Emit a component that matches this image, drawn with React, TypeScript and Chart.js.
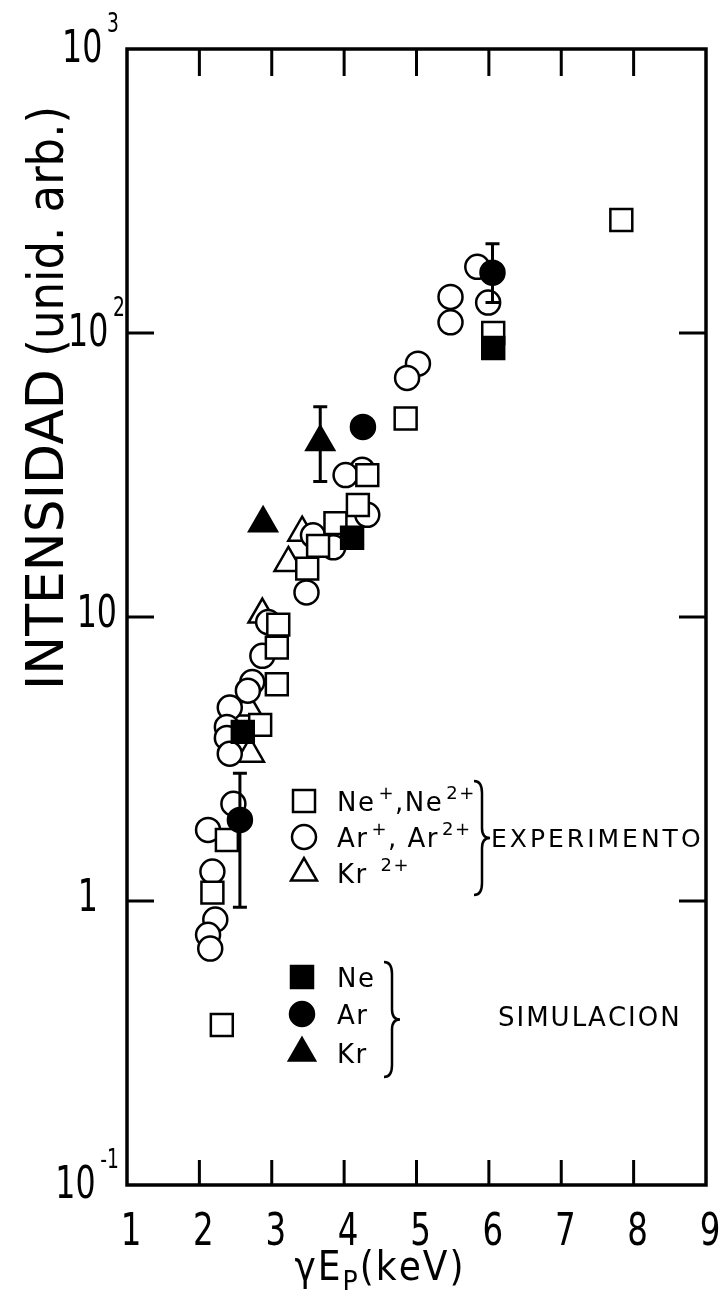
import React, { useEffect, useRef } from 'react';
import { Chart, registerables } from 'chart.js';

Chart.register(...registerables);

// ---- data ----
const neExpX = [7.83, 6.06, 4.85, 4.32, 4.19, 3.88, 3.64, 3.49, 3.09, 3.07, 3.07, 2.84, 2.38, 2.18, 2.31];
const neExpY = [250, 100, 50, 31.6, 24.8, 21.4, 17.8, 14.8, 9.4, 7.8, 5.8, 4.17, 1.64, 1.07, 0.366];

const arExpX = [5.84, 5.99, 5.47, 5.47, 5.02, 4.87, 4.25, 4.02, 4.32, 3.57, 3.85, 3.48, 2.95, 2.87, 2.73, 2.67, 2.42, 2.38, 2.38, 2.42, 2.47, 2.12, 2.18, 2.22, 2.12, 2.15];
const arExpY = [171, 128, 134, 109, 78, 69.5, 33, 31.6, 22.9, 19.4, 17.6, 12.2, 9.6, 7.3, 5.9, 5.5, 4.8, 4.1, 3.75, 3.3, 2.2, 1.78, 1.27, 0.86, 0.76, 0.68];

const krExpX = [3.42, 3.23, 2.87, 2.67, 2.7];
const krExpY = [19.8, 15.5, 10.2, 4.8, 3.3];

const neSimX = [6.06, 4.11, 2.6];
const neSimY = [88.5, 19, 3.94];

const arSimX = [6.05, 4.26, 2.56];
const arSimY = [163, 46.7, 1.93];

const krSimX = [3.67, 2.88];
const krSimY = [41.3, 21.4];

const errX = [3.67, 6.05, 2.56];
const errLow = [30, 128, 0.95];
const errHigh = [55, 206, 2.82];

const xTickValues = [1, 2, 3, 4, 5, 6, 7, 8, 9];
const xTickLabels = ['1', '2', '3', '4', '5', '6', '7', '8', '9'];
const yTickValues = [0.1, 1, 10, 100, 1000];
const yTickBase = ['10', '1', '10', '10', '10'];
const yTickExp = ['-1', '', '', '2', '3'];

const FONT_C = "'DejaVu Sans Condensed', 'Liberation Sans Narrow', 'DejaVu Sans', sans-serif";
const FONT_R = "'DejaVu Sans', 'Liberation Sans', sans-serif";
const Y_LABEL_RIGHT = [119, 98, 117, 125, 119];

const zip = (xs: number[], ys: number[]) => xs.map((x, i) => ({ x, y: ys[i] }));

type Seg = { t: string; sup?: boolean; sub?: boolean };
type SegOpts = { size: number; small: number; spacing?: number; font?: string; supDy?: number; subDy?: number; supGap?: number; sx?: number };

function drawSegs(ctx: CanvasRenderingContext2D, segs: Seg[], x: number, y: number, o: SegOpts) {
  const sx = o.sx || 1;
  const font = o.font || FONT_C;
  const sp = o.spacing || 0;
  ctx.save();
  ctx.translate(x, y);
  ctx.scale(sx, 1);
  let cx = 0;
  for (const s of segs) {
    const fs = s.sup || s.sub ? o.small : o.size;
    ctx.font = `${fs}px ${font}`;
    const dy = s.sup ? (o.supDy ?? -o.size * 0.45) : s.sub ? (o.subDy ?? o.size * 0.3) : 0;
    if (s.sup && o.supGap) cx += o.supGap;
    for (const ch of s.t) {
      ctx.fillText(ch, cx, dy);
      cx += ctx.measureText(ch).width + sp;
    }
  }
  ctx.restore();
  return x + cx * sx;
}

function segsWidth(ctx: CanvasRenderingContext2D, segs: Seg[], o: SegOpts) {
  let w = 0;
  const font = o.font || FONT_C;
  for (const s of segs) {
    ctx.font = `${s.sup || s.sub ? o.small : o.size}px ${font}`;
    if (s.sup && o.supGap) w += o.supGap;
    for (const ch of s.t) w += ctx.measureText(ch).width + (o.spacing || 0);
  }
  return w * (o.sx || 1);
}

function marker(ctx: CanvasRenderingContext2D, style: string, x: number, y: number, filled: boolean) {
  ctx.save();
  ctx.lineWidth = 2.5;
  ctx.strokeStyle = '#000';
  ctx.fillStyle = filled ? '#000' : '#fff';
  ctx.beginPath();
  if (style === 'rect') {
    ctx.rect(x - 11, y - 11, 22, 22);
  } else if (style === 'circle') {
    ctx.arc(x, y, 12, 0, Math.PI * 2);
  } else {
    const r = 15;
    ctx.moveTo(x, y - r);
    ctx.lineTo(x + r * 0.866, y + r * 0.5);
    ctx.lineTo(x - r * 0.866, y + r * 0.5);
    ctx.closePath();
  }
  ctx.fill();
  ctx.stroke();
  ctx.restore();
}

function brace(ctx: CanvasRenderingContext2D, x: number, y1: number, y2: number, w: number) {
  const ym = (y1 + y2) / 2;
  ctx.beginPath();
  ctx.moveTo(x - w, y1);
  ctx.quadraticCurveTo(x, y1, x, y1 + 12);
  ctx.lineTo(x, ym - 10);
  ctx.quadraticCurveTo(x, ym, x + w, ym);
  ctx.quadraticCurveTo(x, ym, x, ym + 10);
  ctx.lineTo(x, y2 - 12);
  ctx.quadraticCurveTo(x, y2, x - w, y2);
  ctx.stroke();
}

const framePlugin = {
  id: 'frame',
  afterDatasetsDraw(chart: any) {
    const ctx: CanvasRenderingContext2D = chart.ctx;
    const xs = chart.scales.x;
    const ys = chart.scales.y;
    const { left, right, top, bottom } = chart.chartArea;
    ctx.save();
    ctx.strokeStyle = '#000';
    ctx.fillStyle = '#000';
    // error bars
    ctx.lineWidth = 3;
    errX.forEach((xv, i) => {
      const px = xs.getPixelForValue(xv);
      const p1 = ys.getPixelForValue(errLow[i]);
      const p2 = ys.getPixelForValue(errHigh[i]);
      ctx.beginPath();
      ctx.moveTo(px, p1);
      ctx.lineTo(px, p2);
      ctx.moveTo(px - 7, p1);
      ctx.lineTo(px + 7, p1);
      ctx.moveTo(px - 7, p2);
      ctx.lineTo(px + 7, p2);
      ctx.stroke();
    });
    // frame
    ctx.lineWidth = 3.5;
    ctx.strokeRect(left, top, right - left, bottom - top);
    // inner ticks
    ctx.lineWidth = 3;
    xTickValues.forEach((v) => {
      if (v === xs.min || v === xs.max) return;
      const px = xs.getPixelForValue(v);
      ctx.beginPath();
      ctx.moveTo(px, bottom);
      ctx.lineTo(px, bottom - 25);
      ctx.moveTo(px, top);
      ctx.lineTo(px, top + 27);
      ctx.stroke();
    });
    yTickValues.forEach((v) => {
      if (v === ys.min || v === ys.max) return;
      const py = ys.getPixelForValue(v);
      ctx.beginPath();
      ctx.moveTo(left, py);
      ctx.lineTo(left + 27, py);
      ctx.moveTo(right, py);
      ctx.lineTo(right - 27, py);
      ctx.stroke();
    });
    // x tick labels
    ctx.textBaseline = 'alphabetic';
    ctx.textAlign = 'left';
    const xo: SegOpts = { size: 44, small: 44, sx: 0.82 };
    xTickValues.forEach((v, i) => {
      const segs: Seg[] = [{ t: xTickLabels[i] }];
      const w = segsWidth(ctx, segs, xo);
      drawSegs(ctx, segs, xs.getPixelForValue(v) + 4 - w / 2, bottom + 60, xo);
    });
    // y tick labels
    yTickValues.forEach((v, i) => {
      const py = ys.getPixelForValue(v);
      const o: SegOpts = { size: 44, small: 26, supDy: -30, supGap: 6, sx: 0.8 };
      const segs: Seg[] = yTickExp[i] ? [{ t: yTickBase[i] }, { t: yTickExp[i], sup: true }] : [{ t: yTickBase[i] }];
      const w = segsWidth(ctx, segs, o);
      drawSegs(ctx, segs, Y_LABEL_RIGHT[i] - w, py + (yTickExp[i] ? 13 : 10), o);
    });
    // x title
    {
      const segs: Seg[] = [{ t: 'γE' }, { t: 'P', sub: true }, { t: '(keV)' }];
      const o: SegOpts = { size: 40, small: 28, spacing: 2, subDy: 11 };
      const w = segsWidth(ctx, segs, o);
      drawSegs(ctx, segs, 380 - w / 2, 1280, o);
    }
    // y title
    ctx.save();
    ctx.translate(63, 690);
    ctx.rotate(-Math.PI / 2);
    ctx.textAlign = 'left';
    ctx.font = `52px ${FONT_R}`;
    ctx.fillText('INTENSIDAD', 0, 0);
    const w1 = ctx.measureText('INTENSIDAD ').width;
    ctx.font = `50px ${FONT_C}`;
    ctx.fillText('(unid. arb.)', w1 - 4, 0);
    ctx.restore();

    // legend
    const lx = 304;
    const lo: SegOpts = { size: 26, small: 18, spacing: 1.5, font: FONT_R, supDy: -12, supGap: 3 };
    const items1: { s: string; segs: Seg[]; y: number }[] = [
      { s: 'rect', segs: [{ t: 'Ne' }, { t: '+', sup: true }, { t: ',Ne' }, { t: '2+', sup: true }], y: 801 },
      { s: 'circle', segs: [{ t: 'Ar' }, { t: '+', sup: true }, { t: ', Ar' }, { t: '2+', sup: true }], y: 837 },
      { s: 'triangle', segs: [{ t: 'Kr ' }, { t: '2+', sup: true }], y: 873 },
    ];
    items1.forEach((it) => {
      marker(ctx, it.s, lx, it.y, false);
      ctx.fillStyle = '#000';
      drawSegs(ctx, it.segs, lx + 33, it.y + 10, lo);
    });
    ctx.strokeStyle = '#000';
    ctx.lineWidth = 2.5;
    brace(ctx, 482, 781, 895, 8);
    ctx.fillStyle = '#000';
    drawSegs(ctx, [{ t: 'EXPERIMENTO' }], 491, 847, { size: 25, small: 25, spacing: 3, font: FONT_R });

    const items2: { s: string; t: string; y: number }[] = [
      { s: 'rect', t: 'Ne', y: 977 },
      { s: 'circle', t: 'Ar', y: 1014 },
      { s: 'triangle', t: 'Kr', y: 1053 },
    ];
    items2.forEach((it) => {
      marker(ctx, it.s, lx - 2, it.y, true);
      ctx.fillStyle = '#000';
      drawSegs(ctx, [{ t: it.t }], lx + 33, it.y + 10, lo);
    });
    brace(ctx, 392, 962, 1077, 8);
    ctx.fillStyle = '#000';
    drawSegs(ctx, [{ t: 'SIMULACION' }], 498, 1026, { size: 26, small: 26, spacing: 2, font: FONT_R });
    ctx.restore();
  },
};

export default function App() {
  const ref = useRef<HTMLCanvasElement | null>(null);
  useEffect(() => {
    document.body.style.margin = '0';
    const canvas = ref.current!;
    const mk = (label: string, xs: number[], ys: number[], style: string, filled: boolean, r: number, order: number) => ({
      label,
      data: zip(xs, ys),
      pointStyle: style,
      pointRadius: r,
      pointHoverRadius: r,
      borderWidth: 2.5,
      borderColor: '#000',
      backgroundColor: filled ? '#000' : '#fff',
      showLine: false,
      order,
    });
    const chart = new Chart(canvas, {
      type: 'scatter',
      data: {
        datasets: [
          mk('Ne', neSimX, neSimY, 'rect', true, 15.5, 0),
          mk('Ar', arSimX, arSimY, 'circle', true, 12, 0),
          mk('Kr', krSimX, krSimY, 'triangle', true, 16, 0),
          mk('Ne+, Ne2+', neExpX, neExpY, 'rect', false, 15.5, 1),
          mk('Ar+, Ar2+', arExpX, arExpY, 'circle', false, 12, 2),
          mk('Kr2+', krExpX, krExpY, 'triangle', false, 16, 3),
        ],
      },
      options: {
        animation: false,
        responsive: false,
        devicePixelRatio: 1,
        layout: { padding: { left: 127, right: 21, top: 49, bottom: 105 } },
        plugins: { legend: { display: false }, tooltip: { enabled: false }, title: { display: false } },
        scales: {
          x: { type: 'linear', min: 1, max: 9, display: false },
          y: { type: 'logarithmic', min: 0.1, max: 1000, display: false },
        },
      },
      plugins: [framePlugin],
    });
    return () => chart.destroy();
  }, []);
  return <canvas ref={ref} width={727} height={1290} style={{ display: 'block' }} />;
}
